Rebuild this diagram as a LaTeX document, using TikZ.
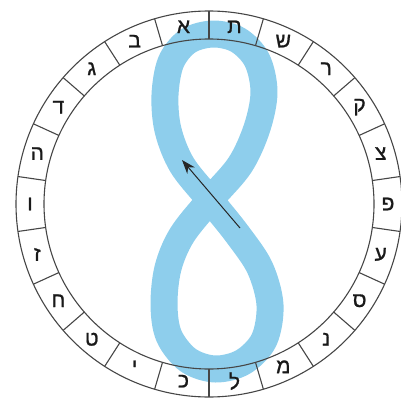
\documentclass[tikz,border=0pt]{standalone}
\usepackage{fontspec}
\newfontfamily\hebfont[Script=Hebrew,FakeBold=1]{Liberation Sans}
\usetikzlibrary{arrows.meta}
\TeXXeTstate=1
\definecolor{ribbonblue}{RGB}{142,206,236}
\definecolor{ringgray}{RGB}{70,70,70}
\begin{document}
\begin{tikzpicture}[x=1pt,y=-1pt,
  ring/.style={draw=ringgray, line width=1.1pt},
  letter/.style={font=\hebfont\fontsize{21}{21}\selectfont, text=black!90, inner sep=0pt},
  ribbon/.style={draw=ribbonblue, line width=27pt, line join=round}]
\useasboundingbox (0,0) rectangle (401,401);
\coordinate (O) at (209,204);
% figure-eight ribbon
\draw[ribbon] plot[smooth cycle, tension=0.55] coordinates {
  (210,200) (240,165) (257,128) (264,92) (257,60) (238,40) (213,34)
  (188,41) (171,62) (165,95) (168,130) (182,165)
  (210,200) (238,235) (260,268) (270,305) (264,340) (243,362) (215,369)
  (188,360) (169,336) (164,305) (168,268) (182,235)};
% ring
\draw[ring] (O) circle[radius=193pt];
\draw[ring] (O) circle[radius=165pt];
\foreach \k in {0,...,21}{
  \pgfmathsetmacro{\a}{-(90+360/22*\k)}
  \draw[ring] ([shift={(\a:165)}]O) -- ([shift={(\a:193)}]O);
}
% letters
\foreach \l [count=\k from 0] in {א,ב,ג,ד,ה,ו,ז,ח,ט,י,כ,ל,מ,נ,ס,ע,פ,צ,ק,ר,ש,ת}{
  \pgfmathsetmacro{\a}{-(90+360/44+360/22*\k)}
  \node[letter] (L\k) at ([shift={(\a:179)}]O) {\beginR\l\endR};
}
% arrow
\coordinate (As) at (240,228);
\coordinate (Ae) at (182,160);
\draw[-{Stealth[length=14pt,width=10pt]}, line width=1pt, black!85] (As) -- (Ae);
\end{tikzpicture}
\end{document}
